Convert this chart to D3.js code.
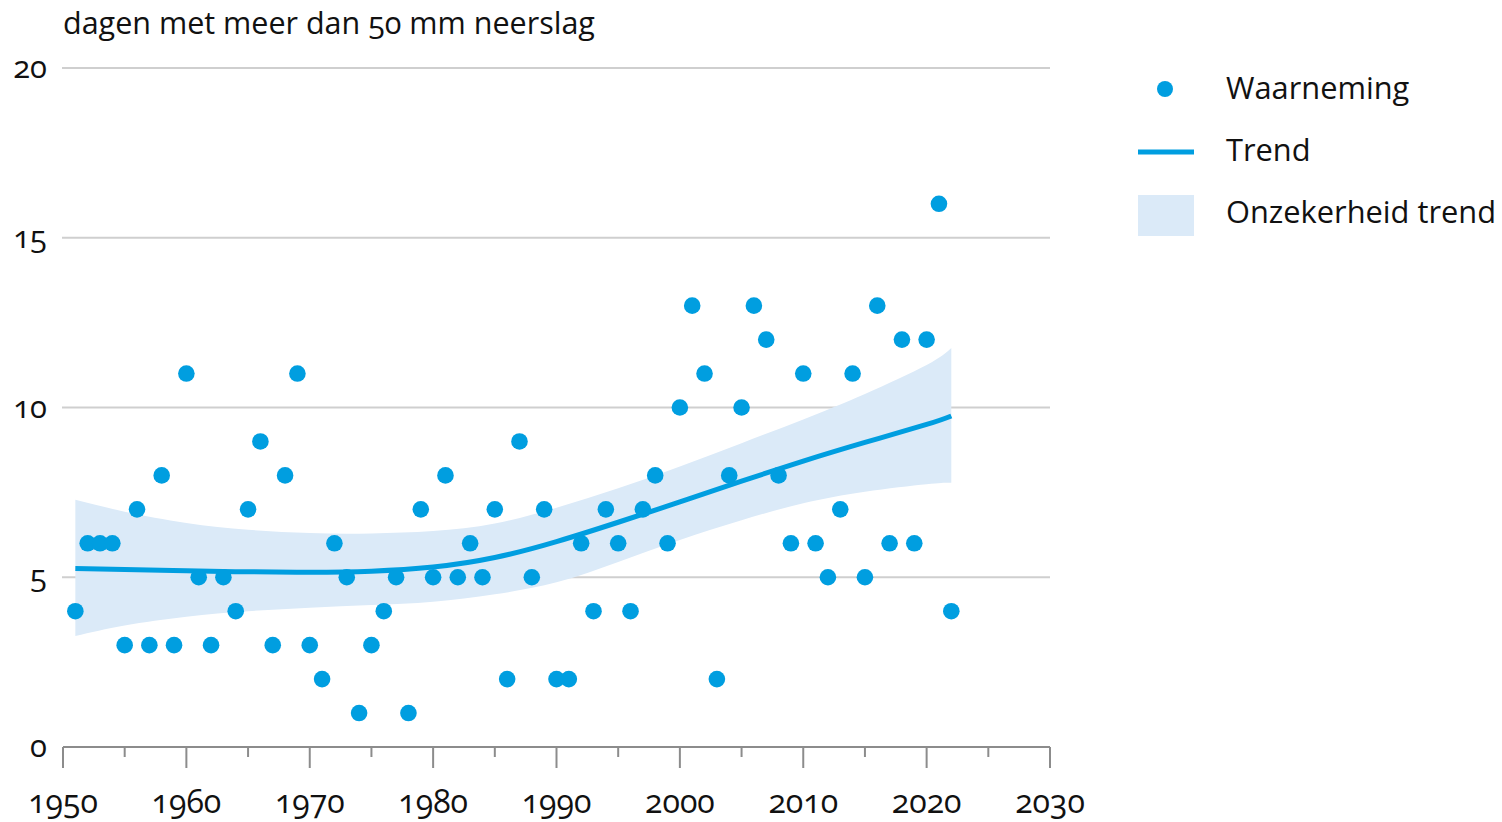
<!DOCTYPE html>
<html>
<head>
<meta charset="utf-8">
<script src="https://cdn.jsdelivr.net/npm/d3@7"></script>
<style>
  body { margin: 0; background: #fff; }
  svg text { font-family: "Open Sans", sans-serif; fill: #111; font-variant-numeric: oldstyle-nums; font-feature-settings: "onum"; }
</style>
</head>
<body>
<svg width="1502" height="822"></svg>
<script>
// Observations: days per year with more than 50 mm precipitation
const years = d3.range(1951, 2023);
const counts = [4, 6, 6, 6, 3, 7, 3, 8, 3, 11,
                5, 3, 5, 4, 7, 9, 3, 8, 11, 3,
                2, 6, 5, 1, 3, 4, 5, 1, 7, 5,
                8, 5, 6, 5, 7, 2, 9, 5, 7, 2,
                2, 6, 4, 7, 6, 4, 7, 8, 6, 10,
                13, 11, 2, 8, 10, 13, 12, 8, 6, 11,
                6, 5, 7, 11, 5, 13, 6, 12, 6, 12,
                16, 4];

// Trend and its uncertainty band, read at these years
const trendYears = [1951, 1955, 1960, 1965, 1970, 1975, 1980, 1985, 1990, 1995, 2000, 2005, 2010, 2015, 2020, 2022];
const trend      = [5.26, 5.23, 5.19, 5.16, 5.15, 5.18, 5.30, 5.58, 6.05, 6.62, 7.22, 7.83, 8.42, 8.97, 9.50, 9.75];
const trendHigh  = [7.28, 6.93, 6.60, 6.40, 6.30, 6.29, 6.36, 6.58, 7.05, 7.62, 8.26, 8.95, 9.65, 10.40, 11.25, 11.75];
const trendLow   = [3.27, 3.58, 3.84, 4.00, 4.10, 4.18, 4.28, 4.50, 4.85, 5.45, 6.10, 6.68, 7.18, 7.52, 7.74, 7.78];

const yTicks = [0, 5, 10, 15, 20];
const xTicks = d3.range(1950, 2031, 10);
const xMinor = d3.range(1955, 2030, 10);

const blue = "#009ee0";
const band = "#dbeaf8";

const svg = d3.select("svg");

const x = d3.scaleLinear().domain([1950, 2030]).range([63, 1050]);
const y = d3.scaleLinear().domain([0, 20]).range([747, 68]);

// Title
svg.append("text")
   .attr("x", 63)
   .attr("y", 34)
   .style("font-size", "30.5px")
   .text("dagen met meer dan 50 mm neerslag");

// Gridlines
svg.append("g")
   .selectAll("line")
   .data(yTicks.filter(d => d > 0))
   .join("line")
   .attr("x1", 62)
   .attr("x2", 1050)
   .attr("y1", d => y(d))
   .attr("y2", d => y(d))
   .attr("stroke", "#cfcfcf")
   .attr("stroke-width", 2);

// Y labels
svg.append("g")
   .selectAll("text")
   .data(yTicks)
   .join("text")
   .attr("x", 47)
   .attr("y", d => y(d) + 10)
   .attr("text-anchor", "end")
   .style("font-size", "31px")
   .text(d => d);

// Uncertainty band
const idx = trendYears.map((d, i) => i);
svg.append("path")
   .datum(idx)
   .attr("fill", band)
   .attr("d", d3.area()
                .x(i => x(trendYears[i]))
                .y0(i => y(trendLow[i]))
                .y1(i => y(trendHigh[i]))
                .curve(d3.curveNatural));

// X axis
const xAxis = svg.append("g");
xAxis.append("line")
     .attr("x1", x(1950)).attr("x2", x(2030))
     .attr("y1", y(0)).attr("y2", y(0))
     .attr("stroke", "#8c8c8c").attr("stroke-width", 2);
xAxis.selectAll(".major")
     .data(xTicks)
     .join("line")
     .attr("class", "major")
     .attr("x1", d => x(d)).attr("x2", d => x(d))
     .attr("y1", y(0)).attr("y2", y(0) + 21)
     .attr("stroke", "#8c8c8c").attr("stroke-width", 2);
xAxis.selectAll(".minor")
     .data(xMinor)
     .join("line")
     .attr("class", "minor")
     .attr("x1", d => x(d)).attr("x2", d => x(d))
     .attr("y1", y(0)).attr("y2", y(0) + 10)
     .attr("stroke", "#8c8c8c").attr("stroke-width", 2);
xAxis.selectAll("text")
     .data(xTicks)
     .join("text")
     .attr("x", d => x(d))
     .attr("y", 813)
     .attr("text-anchor", "middle")
     .style("font-size", "32px")
     .text(d => d);

// Trend line
svg.append("path")
   .datum(idx)
   .attr("fill", "none")
   .attr("stroke", blue)
   .attr("stroke-width", 5)
   .attr("d", d3.line()
                .x(i => x(trendYears[i]))
                .y(i => y(trend[i]))
                .curve(d3.curveNatural));

// Observations
svg.append("g")
   .selectAll("circle")
   .data(years)
   .join("circle")
   .attr("cx", d => x(d))
   .attr("cy", (d, i) => y(counts[i]))
   .attr("r", 8.3)
   .attr("fill", blue);

// Legend
const legend = svg.append("g");
legend.append("circle").attr("cx", 1165).attr("cy", 89).attr("r", 8).attr("fill", blue);
legend.append("line").attr("x1", 1138).attr("x2", 1194).attr("y1", 152).attr("y2", 152)
      .attr("stroke", blue).attr("stroke-width", 5);
legend.append("rect").attr("x", 1138).attr("y", 195).attr("width", 56).attr("height", 41).attr("fill", band);
legend.selectAll("text")
      .data(["Waarneming", "Trend", "Onzekerheid trend"])
      .join("text")
      .attr("x", 1226)
      .attr("y", (d, i) => 99 + i * 62)
      .style("font-size", "30.8px")
      .text(d => d);
</script>
</body>
</html>
